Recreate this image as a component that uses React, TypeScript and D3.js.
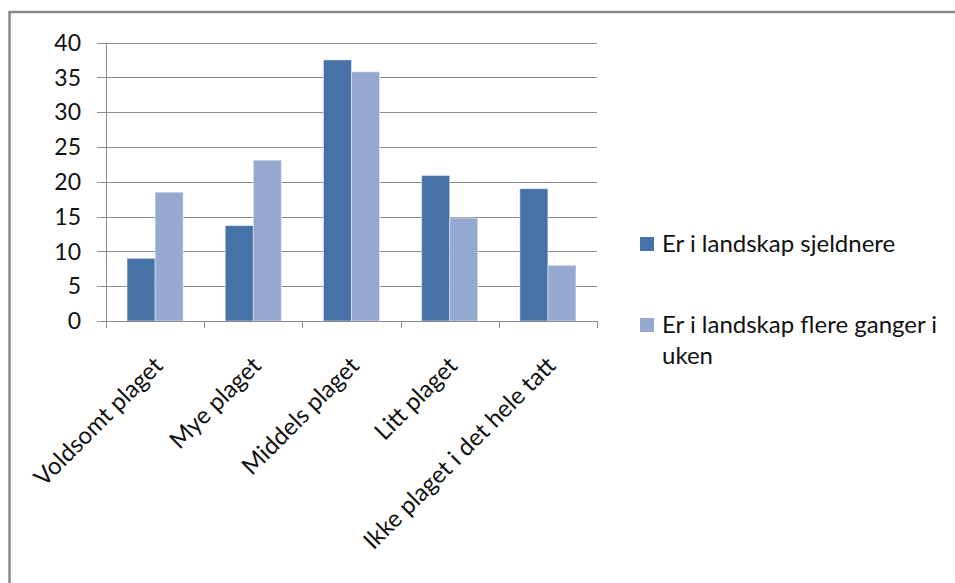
import React from 'react';
import * as d3 from 'd3';

const categories = ['Voldsomt plaget', 'Mye plaget', 'Middels plaget', 'Litt plaget', 'Ikke plaget i det hele tatt'];
const seriesNames = ['Er i landskap sjeldnere', 'Er i landskap flere ganger i uken'];
const sjeldnere = [9, 13.7, 37.5, 20.9, 19];
const flereGanger = [18.5, 23.1, 35.8, 14.8, 8];
const yTicks = [0, 5, 10, 15, 20, 25, 30, 35, 40];
const colors = ['#4672a8', '#95a9d0'];

const W = 955;
const H = 583;
const plot = { left: 106, right: 597, top: 42.5, bottom: 321 };
const font = 'Lato, "Open Sans", sans-serif';
const fs = 23;
const fsLabel = 24;

const App: React.FC = () => {
  const x0 = d3.scaleBand<string>().domain(categories).range([plot.left, plot.right]).padding(0);
  const x1 = d3.scaleBand<string>().domain(seriesNames).range([0, x0.bandwidth()]).paddingInner(0).paddingOuter(0.75);
  const y = d3.scaleLinear().domain([0, 40]).range([plot.bottom, plot.top]);
  const values = [sjeldnere, flereGanger];

  const boundaries = [...categories.map(c => x0(c)!), plot.right];

  return (
    <svg width={W} height={H} style={{ position: 'absolute', left: 0, top: 0, background: '#fff' }} fontFamily={font}>
      {/* chart frame (only top and left edge visible) */}
      <line x1={9.5} x2={W} y1={12} y2={12} stroke="#8a8a8a" strokeWidth={2.5} />
      <line x1={9.5} x2={9.5} y1={11} y2={H} stroke="#8a8a8a" strokeWidth={2.5} />

      {/* gridlines + y ticks */}
      {yTicks.map(t => (
        <g key={t}>
          <line x1={plot.left - 9} x2={plot.right} y1={Math.round(y(t)) + 0.5} y2={Math.round(y(t)) + 0.5} stroke="#8c8c8c" />
          <text x={81} y={y(t)} dy="0.36em" textAnchor="end" fontSize={fs} fill="#111">{t}</text>
        </g>
      ))}
      <line x1={plot.left + 0.5} x2={plot.left + 0.5} y1={plot.top} y2={plot.bottom} stroke="#8c8c8c" />

      {/* bars */}
      {categories.map((c, i) => (
        <g key={c} transform={`translate(${x0(c)},0)`}>
          {seriesNames.map((s, j) => (
            <rect
              key={s}
              x={x1(s)}
              y={y(values[j][i])}
              width={x1.bandwidth()}
              height={y(0) - y(values[j][i])}
              fill={colors[j]}
              stroke="#ffffff"
              strokeOpacity={0.45}
              strokeWidth={1}
            />
          ))}
        </g>
      ))}

      {/* x axis */}
      <line x1={plot.left} x2={plot.right} y1={plot.bottom + 0.5} y2={plot.bottom + 0.5} stroke="#8c8c8c" />
      {boundaries.map((b, i) => (
        <line key={i} x1={Math.round(b) + 0.5} x2={Math.round(b) + 0.5} y1={plot.bottom} y2={plot.bottom + 7} stroke="#8c8c8c" />
      ))}
      {categories.map(c => {
        const cx = x0(c)! + x0.bandwidth() / 2;
        return (
          <text key={c} transform={`translate(${cx - 3},${355}) rotate(-45)`} textAnchor="end" dy="0.72em" fontSize={fsLabel} fill="#111">
            {c}
          </text>
        );
      })}

      {/* legend */}
      <rect x={640} y={237} width={14} height={14} fill={colors[0]} />
      <text x={662} y={252} fontSize={fsLabel} fill="#111">{seriesNames[0]}</text>
      <rect x={640} y={318} width={14} height={14} fill={colors[1]} />
      <text x={662} y={333} fontSize={fsLabel} fill="#111">
        <tspan x={662}>Er i landskap flere ganger i</tspan>
        <tspan x={662} dy={31}>uken</tspan>
      </text>
    </svg>
  );
};

export default App;
